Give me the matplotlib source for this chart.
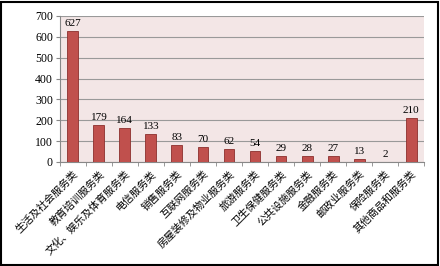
import matplotlib.pyplot as plt
import numpy as np
from matplotlib.patches import Rectangle

categories = ["生活及社会服务类", "教育培训服务类", "文化、娱乐及体育服务类", "电信服务类",
              "销售服务类", "互联网服务类", "房屋装修及物业服务类", "旅游服务类",
              "卫生保健服务类", "公共设施服务类", "金融服务类", "邮政业服务类",
              "保险服务类", "其他商品和服务类"]
values = [627, 179, 164, 133, 83, 70, 62, 54, 29, 28, 27, 13, 2, 210]

plt.rcParams['font.family'] = ['Noto Sans CJK SC', 'DejaVu Sans']

fig = plt.figure(figsize=(4.4, 2.66), dpi=100)
ax = fig.add_axes([0.136, 0.391, 0.828, 0.549])
ax.set_facecolor("#f3e6e6")

x = np.arange(len(categories))
ax.bar(x, values, width=0.42, color="#c0504d", edgecolor="#8c2f2d", linewidth=0.6, zorder=3)
for xi, v in zip(x, values):
    ax.text(xi, v + 14, str(v), ha="center", va="bottom", fontsize=8,
            family="Liberation Serif", zorder=4)

ax.set_xlim(-0.5, len(categories) - 0.5)
ax.set_ylim(0, 700)
ax.set_yticks(range(0, 701, 100))
ax.set_yticklabels([str(t) for t in range(0, 701, 100)], family="Liberation Serif", fontsize=8.5)
ax.yaxis.grid(True, color="#999999", linewidth=0.8, zorder=1)
ax.set_axisbelow(True)

ax.set_xticks(x)
ax.set_xticklabels(categories, rotation=45, ha="right", rotation_mode="anchor", fontsize=7.5)
ax.tick_params(axis="x", which="major", length=0, pad=5)
ax.set_xticks(np.arange(-0.5, len(categories), 1), minor=True)
ax.tick_params(axis="x", which="minor", length=3, color="#888888")
ax.tick_params(axis="y", length=3, color="#888888", pad=2)

for s in ["top", "right"]:
    ax.spines[s].set_visible(False)
for s in ["left", "bottom"]:
    ax.spines[s].set_color("#888888")

fig.patches.append(Rectangle((0.002, 0.004), 0.994, 0.99, transform=fig.transFigure,
                             fill=False, edgecolor="black", linewidth=1.5))

fig.savefig("out.png", dpi=100)
